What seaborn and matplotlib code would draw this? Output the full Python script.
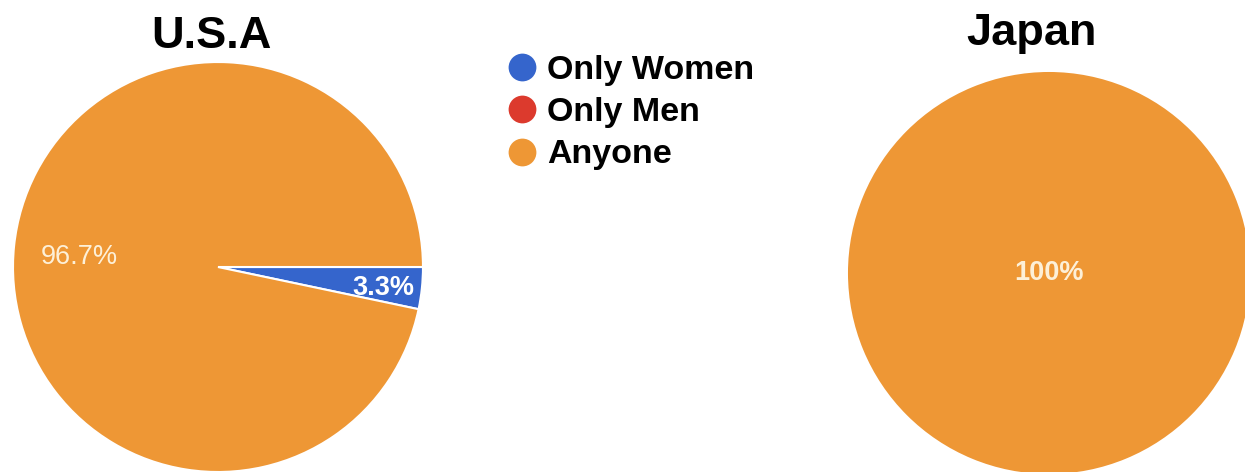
import numpy as np
import seaborn as sns
import matplotlib.pyplot as plt
from matplotlib.lines import Line2D

# data
categories = ["Only Women", "Only Men", "Anyone"]
usa_share = [3.3, 0.0, 96.7]
japan_share = [0.0, 0.0, 100.0]
colors = ["#3565cc", "#dc3a2d", "#ee9735"]

sns.set_theme(style="white")
plt.rcParams["font.family"] = ["Liberation Sans", "DejaVu Sans"]

fig = plt.figure(figsize=(12.45, 4.72), dpi=100)


def draw_pie(ax, values, pct_dist, pct_weight, edge_width):
    """Draw one country's pie, skipping empty slices like the original."""
    idx = [i for i, v in enumerate(values) if v > 0]
    vals = [values[i] for i in idx]
    cols = [colors[i] for i in idx]
    wedges, texts, autotexts = ax.pie(
        vals, colors=cols, startangle=0, counterclock=False, radius=1,
        autopct=lambda p: "{:.1f}%".format(p) if p < 99.95 else "100%",
        wedgeprops=dict(edgecolor="white", linewidth=edge_width),
        textprops=dict(color="#fdf0d8"))
    for w, t, d, fw in zip(wedges, autotexts, pct_dist, pct_weight):
        ang = np.deg2rad((w.theta1 + w.theta2) / 2)
        t.set_position((d[0] * np.cos(ang), d[0] * np.sin(ang) + d[1]))
        t.set_fontsize(19.5)
        t.set_fontweight(fw)
        if w.get_facecolor()[2] > 0.6:
            t.set_color("white")
    ax.set_xlim(-1, 1)
    ax.set_ylim(-1, 1)
    ax.set_aspect("equal")
    ax.axis("off")


ax_usa = fig.add_axes([0.01044, 0.0, 0.3293, 0.8686])
draw_pie(ax_usa, usa_share, [(0.81, -0.02), (0.68, -0.02)],
         ["bold", "normal"], 1.5)

ax_jp = fig.add_axes([0.6811, -0.0042, 0.3229, 0.8517])
draw_pie(ax_jp, japan_share, [(0.0, 0.0)], ["bold"], 0)

fig.text(211 / 1245, 1 - 36 / 472, "U.S.A", ha="center", va="center",
         fontsize=32.5, fontweight="bold", color="black")
fig.text(1032 / 1245, 1 - 33 / 472, "Japan", ha="center", va="center",
         fontsize=32.5, fontweight="bold", color="black")

handles = [Line2D([], [], marker="o", linestyle="", markersize=20,
                  markerfacecolor=c, markeredgewidth=0) for c in colors]
leg = fig.legend(handles, categories, loc="upper left",
                 bbox_to_anchor=(508 / 1245, 1 - 55 / 472), frameon=False,
                 prop=dict(size=24.5, weight="bold"), handlelength=0.8,
                 handletextpad=0.34, labelspacing=0.33, borderpad=0,
                 borderaxespad=0)
for t in leg.get_texts():
    t.set_color("black")

fig.savefig("out.png", dpi=100)
